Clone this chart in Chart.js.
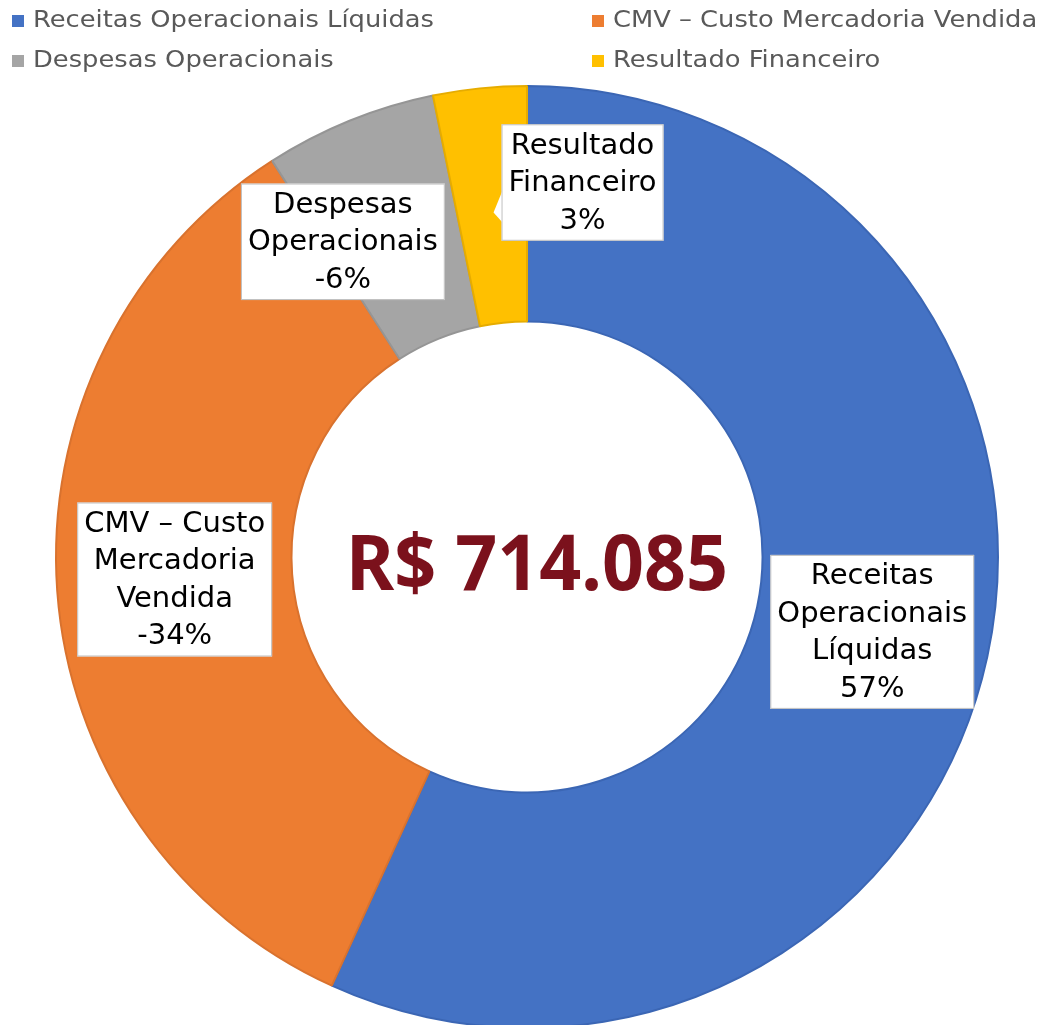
<!DOCTYPE html>
<html><head><meta charset="utf-8">
<script src="https://cdn.jsdelivr.net/npm/chart.js@4/dist/chart.umd.min.js"></script>
<style>html,body{margin:0;padding:0;background:#fff;overflow:hidden}
#wrap{width:1051px;height:1025px;overflow:hidden;position:relative;background:#fff}
canvas{display:block}</style></head><body>
<div id="wrap"><canvas id="c" width="1051" height="1030"></canvas></div>
<script>
const categories = ['Receitas Operacionais Líquidas','CMV – Custo Mercadoria Vendida','Despesas Operacionais','Resultado Financeiro'];
const labelLines = [['Receitas','Operacionais','Líquidas'],['CMV – Custo','Mercadoria','Vendida'],['Despesas','Operacionais'],['Resultado','Financeiro']];
const shares = [56.8, -34.1, -5.9, 3.2];
const totalLabel = 'R$ 714.085';
const colors = ['#4472C4','#ED7D31','#A5A5A5','#FFC000'];
const borderColors = ['#3B66B4','#D9722E','#959595','#E6AC00'];

const FONT = '"DejaVu Sans", sans-serif';
const labelNudge = [[0,0],[0,-3],[-51,12],[91,-23]];

const legendPlugin = {
  id: 'customLegend',
  afterDraw(chart) {
    const ctx = chart.ctx;
    const cols = [12, 592], rows = [21, 61];
    ctx.save();
    ctx.font = '23px ' + FONT;
    ctx.textBaseline = 'middle';
    chart.data.labels.forEach((lab, i) => {
      const x = cols[i % 2], y = rows[Math.floor(i / 2)];
      ctx.fillStyle = colors[i];
      ctx.fillRect(x, y - 6, 12, 12);
      ctx.fillStyle = '#595959';
      ctx.textAlign = 'left';
      ctx.save();
      ctx.translate(x + 21, y);
      ctx.scale(1.12, 1);
      ctx.fillText(lab, 0, 0);
      ctx.restore();
    });
    ctx.restore();
  }
};

const labelPlugin = {
  id: 'boxLabels',
  afterDatasetsDraw(chart) {
    const ctx = chart.ctx;
    const meta = chart.getDatasetMeta(0);
    ctx.save();
    ctx.font = '29px ' + FONT;
    ctx.textAlign = 'center';
    ctx.textBaseline = 'middle';
    const lh = 37.5;
    meta.data.forEach((arc, i) => {
      const p = arc.getProps(['x','y','startAngle','endAngle','innerRadius','outerRadius'], true);
      const mid = (p.startAngle + p.endAngle) / 2;
      const r = (p.innerRadius + p.outerRadius) / 2;
      const cx = p.x + Math.cos(mid) * r + labelNudge[i][0];
      const cy = p.y + Math.sin(mid) * r + labelNudge[i][1];
      const lines = labelLines[i].concat([Math.round(shares[i]) + '%']);
      let w = 0;
      lines.forEach(l => { w = Math.max(w, ctx.measureText(l).width); });
      const bw = w + 14, bh = lines.length * lh + 4;
      const bx = cx - bw / 2, by = cy - bh / 2;
      ctx.fillStyle = '#ffffff';
      ctx.strokeStyle = '#BFBFBF';
      ctx.lineWidth = 1;
      if (i === 3) {
        ctx.beginPath();
        ctx.moveTo(bx + 1, cy + 8);
        ctx.lineTo(bx - 8, cy + 30);
        ctx.lineTo(bx + 1, cy + 40);
        ctx.closePath();
        ctx.fill();
      }
      ctx.fillRect(bx, by, bw, bh);
      ctx.strokeRect(bx + 0.5, by + 0.5, bw - 1, bh - 1);
      ctx.fillStyle = '#000000';
      lines.forEach((l, k) => {
        ctx.fillText(l, cx, by + 2 + lh / 2 + k * lh + 1);
      });
    });
    ctx.restore();
  }
};

const centerPlugin = {
  id: 'centerText',
  afterDraw(chart) {
    const ctx = chart.ctx;
    const arc = chart.getDatasetMeta(0).data[0];
    ctx.save();
    ctx.font = '700 77px "Noto Sans", sans-serif';
    ctx.fillStyle = '#7B111C';
    ctx.textAlign = 'center';
    ctx.textBaseline = 'alphabetic';
    const w = ctx.measureText(totalLabel).width;
    const s = Math.min(1, 382 / w);
    ctx.translate(arc.x + 10, arc.y + 33);
    ctx.scale(s, 1);
    ctx.fillText(totalLabel, 0, 0);
    ctx.restore();
  }
};

new Chart(document.getElementById('c'), {
  type: 'doughnut',
  data: {
    labels: categories,
    datasets: [{
      data: shares.map(v => Math.abs(v)),
      backgroundColor: colors,
      borderColor: borderColors,
      borderWidth: 2
    }]
  },
  options: {
    responsive: false,
    devicePixelRatio: 1,
    animation: false,
    cutout: '50%',
    layout: { padding: { top: 85, bottom: 1, left: 55, right: 52 } },
    plugins: { legend: { display: false }, tooltip: { enabled: false } }
  },
  plugins: [legendPlugin, labelPlugin, centerPlugin]
});
</script>
</body></html>
